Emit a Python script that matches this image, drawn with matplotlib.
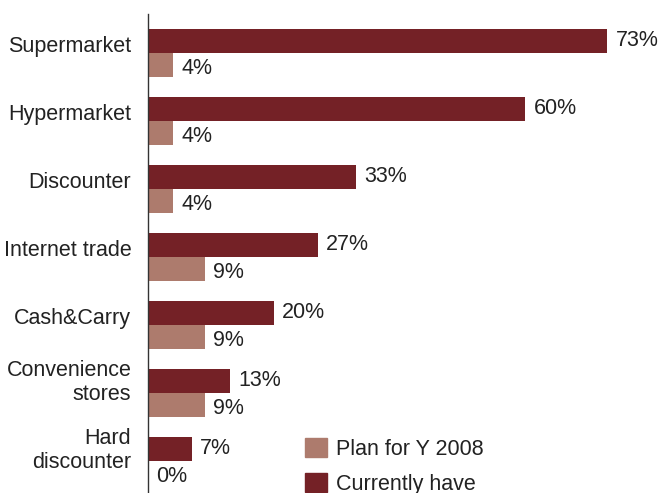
import matplotlib.pyplot as plt
from matplotlib.patches import Patch

categories = ["Supermarket", "Hypermarket", "Discounter", "Internet trade",
              "Cash&Carry", "Convenience\nstores", "Hard\ndiscounter"]
current = [73, 60, 33, 27, 20, 13, 7]
plan = [4, 4, 4, 9, 9, 9, 0]

dark = "#742126"
light = "#ad7b6d"
txt = "#222222"
fs = 15.5

plt.rcParams["font.family"] = ["Liberation Sans", "DejaVu Sans"]

fig = plt.figure(figsize=(6.61, 4.93), dpi=100)
ax = fig.add_axes([148 / 661, 0, 513 / 661, 1 - 14 / 493])

h = 0.36
ys = list(range(len(categories)))
ax.barh([y - h / 2 for y in ys], current, height=h, color=dark)
ax.barh([y + h / 2 for y in ys], plan, height=h, color=light)

for y, c, p in zip(ys, current, plan):
    ax.annotate(f"{c}%", (c, y - h / 2), xytext=(6, 0), textcoords="offset points",
                va="center", ha="left", fontsize=fs, color=txt)
    ax.annotate(f"{p}%", (p, y + h / 2), xytext=(6, -2), textcoords="offset points",
                va="center", ha="left", fontsize=fs, color=txt)

for y, lab in zip(ys, categories):
    off = -0.1 if "\n" not in lab else -0.15
    ax.annotate(lab, (0, y + off), xytext=(-12, 0), textcoords="offset points",
                va="center", ha="right", fontsize=fs, color=txt,
                linespacing=1.2, annotation_clip=False)

ax.set_xlim(0, 513 / 6.29)
ax.set_ylim((493 - 53) / 68, -39 / 68)
ax.set_xticks([])
ax.set_yticks([])
for s in ["top", "right", "bottom"]:
    ax.spines[s].set_visible(False)
ax.spines["left"].set_color("#333333")
ax.spines["left"].set_linewidth(1.0)

handles = [Patch(color=light, label="Plan for Y 2008"),
           Patch(color=dark, label="Currently have")]
fig.legend(handles=handles, loc="upper left", bbox_to_anchor=(294 / 661, 1 - 427 / 493),
           frameon=False, fontsize=fs, handlelength=1.02, handleheight=1.02,
           handletextpad=0.45, labelspacing=0.6, borderpad=0, labelcolor=txt)

fig.savefig("out.png", dpi=100)
